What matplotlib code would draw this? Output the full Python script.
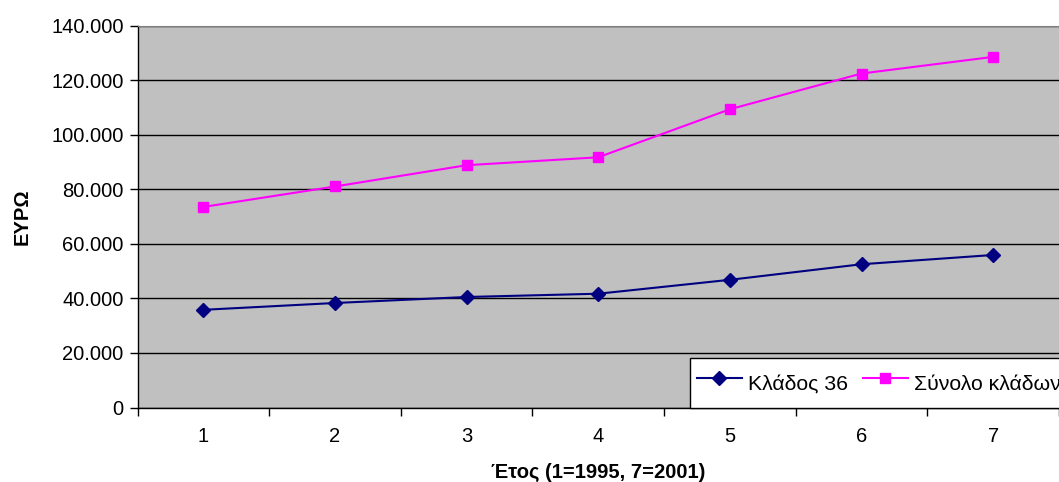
import matplotlib
matplotlib.use("Agg")
import matplotlib.pyplot as plt
from matplotlib.ticker import FuncFormatter, FixedLocator

plt.rcParams['font.family'] = ['Liberation Sans', 'DejaVu Sans']

years = [1, 2, 3, 4, 5, 6, 7]
klados36 = [35800, 38300, 40500, 41700, 46800, 52500, 55900]
synolo = [73500, 81000, 88800, 91700, 109300, 122400, 128500]
series_labels = ["Κλάδος 36", "Σύνολο κλάδων"]

fig = plt.figure(figsize=(10.59, 4.82), dpi=100)
ax = fig.add_axes([137.5/1059, 1 - 407.5/482, 1 - 137.5/1059, (407.5-25.5)/482])
ax.set_facecolor('#C0C0C0')

ax.plot(years, klados36, color='#000080', lw=1.5, marker='D', ms=7, label=series_labels[0], zorder=3)
ax.plot(years, synolo, color='#FF00FF', lw=1.5, marker='s', ms=7, label=series_labels[1], zorder=3)

ax.set_xlim(0.5, 7.5)
ax.set_ylim(0, 140000)
ax.set_yticks(range(0, 140001, 20000))
ax.yaxis.set_major_formatter(FuncFormatter(lambda v, p: f"{int(v):,}".replace(",", ".")))
ax.grid(axis='y', color='black', lw=1)
ax.set_axisbelow(True)

ax.set_xticks(years)
ax.set_xticklabels([str(y) for y in years])
ax.tick_params(axis='x', which='major', length=0, pad=14, labelsize=14.5)
ax.xaxis.set_minor_locator(FixedLocator([0.5 + i for i in range(8)]))
ax.tick_params(axis='x', which='minor', length=6, width=1, direction='out')
ax.tick_params(axis='y', length=6, width=1, direction='out', labelsize=14.5, pad=4)

for s in ['left', 'bottom']:
    ax.spines[s].set_color('black')
    ax.spines[s].set_linewidth(1)
ax.spines['top'].set_color('#808080')
ax.spines['right'].set_visible(False)

ax.set_ylabel("ΕΥΡΩ", fontsize=14.5, fontweight='bold', labelpad=14)
ax.set_xlabel("Έτος (1=1995, 7=2001)", fontsize=14.5, fontweight='bold', labelpad=12)

leg = ax.legend(loc='lower left', bbox_to_anchor=(690/1059, 74/482), bbox_transform=fig.transFigure,
                ncol=2, fontsize=15.3, frameon=True, fancybox=False, edgecolor='black',
                handlelength=2.1, handleheight=2.2, handletextpad=0.3, columnspacing=0.7,
                borderpad=0.33, borderaxespad=0)
leg.get_frame().set_linewidth(1)
leg.get_frame().set_alpha(1)

fig.savefig("out.png", dpi=100)
